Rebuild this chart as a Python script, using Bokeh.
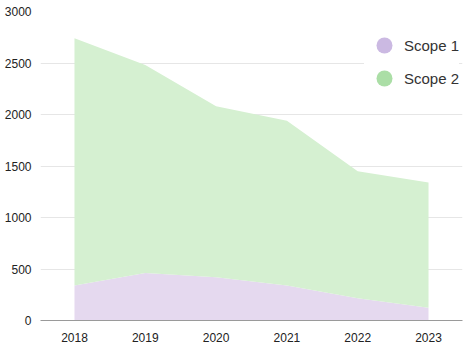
from bokeh.plotting import figure
from bokeh.models import ColumnDataSource, FixedTicker, Legend, LegendItem
from bokeh.embed import file_html
from bokeh.resources import INLINE

years = [2018, 2019, 2020, 2021, 2022, 2023]
scope1 = [340, 460, 420, 340, 215, 125]
scope2 = [2400, 2020, 1660, 1600, 1235, 1215]
series_names = ["Scope 1", "Scope 2"]
y_ticks = [0, 500, 1000, 1500, 2000, 2500, 3000]

total = [a + b for a, b in zip(scope1, scope2)]
src = ColumnDataSource(dict(x=years, zero=[0] * len(years), s1=scope1, tot=total))
mid = ColumnDataSource(dict(x=years[1:-1], zero=[0] * (len(years) - 2)))

FONT = "Liberation Sans"
p = figure(width=473, height=346, output_backend="svg", toolbar_location=None,
           x_range=(2017.52, 2023.48), y_range=(0, 3000),
           min_border_left=40, min_border_right=11, min_border_top=11, min_border_bottom=26)
p.outline_line_color = None
p.background_fill_color = "white"

# legend markers (hidden beneath the areas)
m1 = p.scatter(x="x", y="zero", source=mid, marker="circle", size=17,
               fill_color="#cbb9e2", line_color=None, level="underlay")
m2 = p.scatter(x="x", y="zero", source=mid, marker="circle", size=17,
               fill_color="#abdea6", line_color=None, level="underlay")

p.varea(x="x", y1="zero", y2="s1", source=src, fill_color="#e5d9ef")
p.varea(x="x", y1="s1", y2="tot", source=src, fill_color="#d5f0d1")


def make_legend(label, rend, loc):
    lg = Legend(items=[LegendItem(label=label, renderers=[rend])], location=loc)
    lg.background_fill_color = "white"
    lg.background_fill_alpha = 1
    lg.border_line_color = None
    lg.label_text_font = FONT
    lg.label_text_font_size = "15px"
    lg.label_text_color = "#333333"
    lg.glyph_width = 40
    lg.glyph_height = 40
    lg.label_standoff = 0
    lg.padding = 0
    lg.margin = 0
    return lg


p.add_layout(make_legend(series_names[0], m1, (324, 255)))
p.add_layout(make_legend(series_names[1], m2, (324, 222)))

p.xaxis.ticker = FixedTicker(ticks=years)
p.xaxis.major_tick_line_color = None
p.xaxis.minor_tick_line_color = None
p.xaxis.axis_line_color = "#9a9a9a"
p.xaxis.major_label_standoff = 6
p.xaxis.major_label_text_font = FONT
p.xaxis.major_label_text_font_size = "12px"
p.xaxis.major_label_text_color = "#222222"

p.yaxis.ticker = FixedTicker(ticks=y_ticks)
p.yaxis.major_tick_line_color = None
p.yaxis.minor_tick_line_color = None
p.yaxis.axis_line_color = None
p.yaxis.major_label_standoff = 3
p.yaxis.major_label_text_font = FONT
p.yaxis.major_label_text_font_size = "12px"
p.yaxis.major_label_text_color = "#222222"

p.xgrid.grid_line_color = None
p.ygrid.grid_line_color = "#e6e6e6"

open("out.html", "w").write(file_html(p, INLINE))
